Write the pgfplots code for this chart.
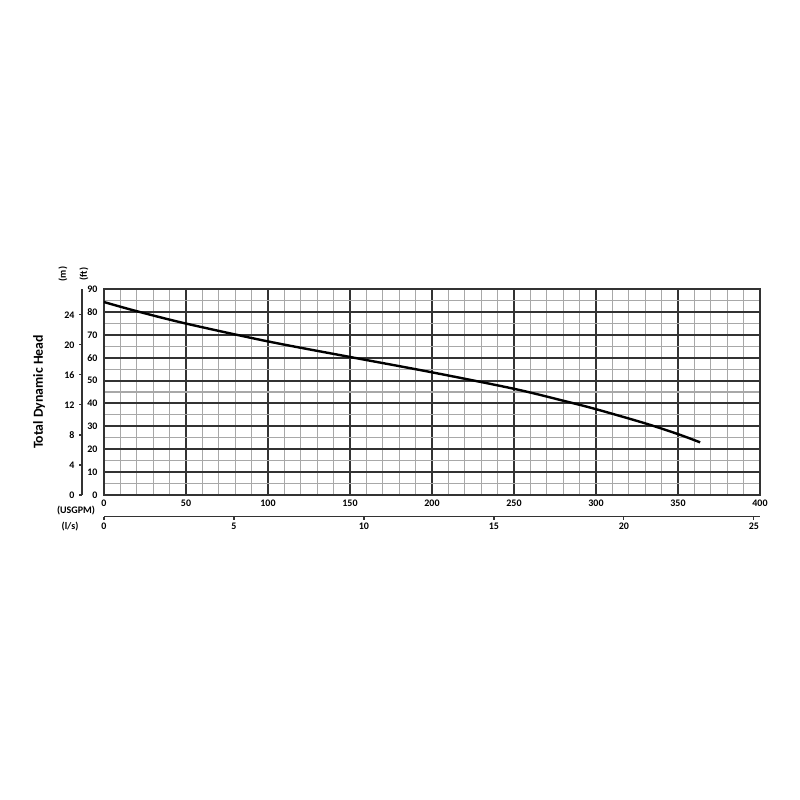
\documentclass[border=0pt]{standalone}
\usepackage{fontspec}
\setmainfont{Carlito}
\usepackage{pgfplots}
\pgfplotsset{compat=1.18}
\definecolor{majgrid}{HTML}{333333}
\definecolor{mingrid}{HTML}{A8A8A8}

\pgfplotsset{
  common/.style={
    scale only axis, width=656pt, height=206pt,
    anchor=south west,
    tick label style={font=\bfseries\fontsize{10}{11}\selectfont, text=black},
    /pgf/number format/assume math mode=true,
  },
}

\begin{document}
\begin{tikzpicture}[font=\bfseries]
\path[use as bounding box] (-104pt,-305pt) rectangle (696pt,495pt);

% metres scale, left of the feet labels
\begin{axis}[common, at={(-22pt,0pt)},
    xmin=0, xmax=1, ymin=0, ymax=27.432,
    hide x axis, axis y line*=left,
    ytick={0,4,...,24}, tick align=outside, major tick length=3pt,
    y axis line style={majgrid, line width=1.4pt},
    every tick/.style={majgrid, line width=1.2pt},
    yticklabel style={xshift=-1pt},
  ]
\end{axis}

% main chart: feet vs USGPM
\begin{axis}[common, at={(0pt,0pt)},
    xmin=0, xmax=400, ymin=0, ymax=90,
    xtick={0,50,...,400}, ytick={0,10,...,90},
    minor xtick={10,20,...,390}, minor ytick={5,15,...,85},
    grid=both,
    major grid style={majgrid, line width=2pt},
    minor grid style={mingrid, line width=1.1pt},
    major tick length=0pt, minor tick length=0pt,
    axis line style={majgrid, line width=2pt},
    yticklabel style={xshift=-3pt},
    xticklabel style={yshift=-1pt},
  ]
  \addplot[black, line width=2.4pt, smooth] coordinates {
    (0,84.3) (20,80.3) (50,74.9) (100,67.1) (150,60.3) (200,53.6)
    (250,46.4) (280,41.2) (300,37.5) (330,31.3) (350,26.6) (363.5,23.0)
  };
\end{axis}

% litres per second scale under the chart
\begin{axis}[common, at={(0pt,-21.5pt)},
    xmin=0, xmax=25.236, ymin=0, ymax=1,
    hide y axis, axis x line*=bottom,
    xtick={0,5,...,25}, tick align=outside, major tick length=3pt,
    x axis line style={majgrid, line width=1.4pt},
    every tick/.style={majgrid, line width=1.2pt},
  ]
\end{axis}

\node[rotate=90, font=\bfseries\fontsize{13.8}{15}\selectfont] at (-65pt,103pt) {Total Dynamic Head};
\node[rotate=90, font=\bfseries\fontsize{10}{11}\selectfont] at (-41pt,221pt) {(m)};
\node[rotate=90, font=\bfseries\fontsize{10}{11}\selectfont] at (-20pt,221pt) {(ft)};
\node[font=\bfseries\fontsize{10}{11}\selectfont] at (-28pt,-16pt) {(USGPM)};
\node[font=\bfseries\fontsize{10}{11}\selectfont] at (-34pt,-32pt) {(l/s)};
\end{tikzpicture}
\end{document}
